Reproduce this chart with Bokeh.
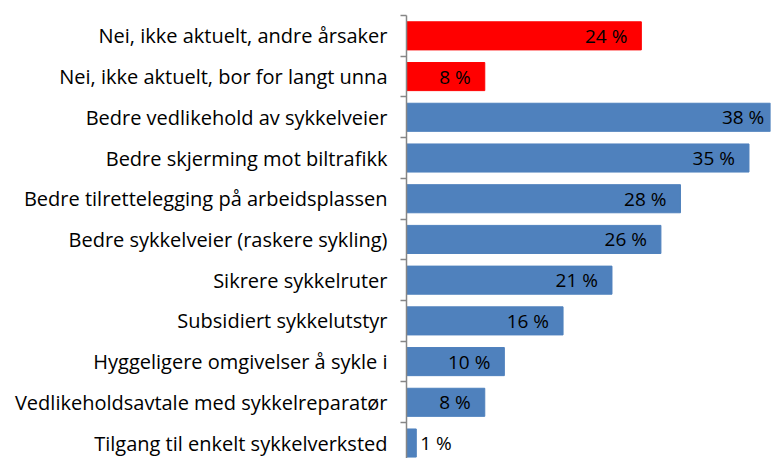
from bokeh.plotting import figure
from bokeh.models import ColumnDataSource, Range1d, FixedTicker, LabelSet
from bokeh.core.properties import value
from bokeh.embed import file_html
from bokeh.resources import INLINE

categories = [
    "Nei, ikke aktuelt, andre årsaker",
    "Nei, ikke aktuelt, bor for langt unna",
    "Bedre vedlikehold av sykkelveier",
    "Bedre skjerming mot biltrafikk",
    "Bedre tilrettelegging på arbeidsplassen",
    "Bedre sykkelveier (raskere sykling)",
    "Sikrere sykkelruter",
    "Subsidiert sykkelutstyr",
    "Hyggeligere omgivelser å sykle i",
    "Vedlikeholdsavtale med sykkelreparatør",
    "Tilgang til enkelt sykkelverksted",
]
values = [24, 8, 38, 35, 28, 26, 21, 16, 10, 8, 1]
value_labels = ["24 %", "8 %", "38 %", "35 %", "28 %", "26 %", "21 %", "16 %", "10 %", "8 %", "1 %"]
groups = ["nei", "nei", "ja", "ja", "ja", "ja", "ja", "ja", "ja", "ja", "ja"]

FONT = "Open Sans"
color_map = {"nei": "#FF0000", "ja": "#4F81BD"}

n = len(categories)
pos = [i + 0.5 for i in range(n)]
src = ColumnDataSource(dict(
    y=pos,
    v=values,
    lab=value_labels,
    color=[color_map[g] for g in groups],
    align=["right" if v >= 3 else "left" for v in values],
    xoff=[-14 if v >= 3 else 4 for v in values],
))

p = figure(width=773, height=458, output_backend="svg", toolbar_location=None,
           x_range=Range1d(0, 37.2), y_range=Range1d(10.88, 0),
           min_border_left=406, min_border_right=3, min_border_top=15, min_border_bottom=0,
           x_axis_location=None)
p.outline_line_color = None
p.grid.visible = False
p.background_fill_color = "white"

p.hbar(y="y", right="v", left=0, height=0.69, color="color", source=src)

labels = LabelSet(x="v", y="y", text="lab", source=src, text_align="align", x_offset="xoff",
                  text_baseline="middle", text_font=value(FONT), text_font_size="19px",
                  text_color="black")
p.add_layout(labels)

ax = p.yaxis[0]
ax.ticker = FixedTicker(ticks=pos, minor_ticks=list(range(n + 1)))
ax.major_label_overrides = {pos[i]: categories[i] for i in range(n)}
ax.major_tick_out = 0
ax.major_tick_in = 0
ax.minor_tick_out = 6
ax.minor_tick_in = 0
ax.minor_tick_line_color = "#868686"
ax.axis_line_color = "#868686"
ax.axis_line_width = 1.5
ax.minor_tick_line_width = 1.5
ax.major_label_standoff = 13
ax.major_label_text_font = FONT
ax.major_label_text_font_size = "20px"
ax.major_label_text_color = "black"

open("out.html", "w").write(file_html(p, INLINE))
